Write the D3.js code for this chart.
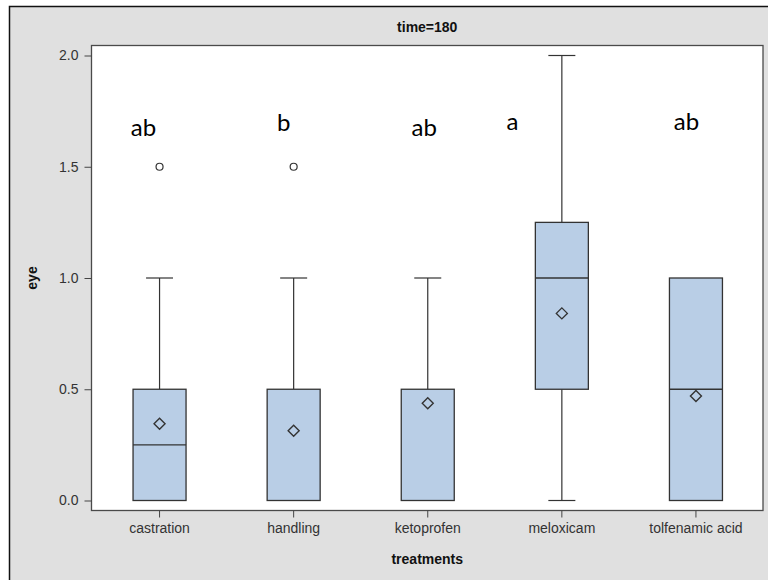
<!DOCTYPE html>
<html>
<head>
<meta charset="utf-8">
<script src="https://cdn.jsdelivr.net/npm/d3@7"></script>
<style>
  html, body { margin: 0; padding: 0; background: #ffffff; }
  svg { display: block; }
</style>
</head>
<body>
<svg id="chart" width="768" height="580"></svg>
<script>
// Box-plot summaries of the "eye" score per treatment at time=180
const treatments = ["castration", "handling", "ketoprofen", "meloxicam", "tolfenamic acid"];
const whiskerLow  = [0,    0,    0,    0,    0];
const q1          = [0,    0,    0,    0.5,  0];
const median      = [0.25, 0,    0.5,  1.0,  0.5];
const q3          = [0.5,  0.5,  0.5,  1.25, 1.0];
const whiskerHigh = [1.0,  1.0,  1.0,  2.0,  1.0];
const means       = [0.345, 0.313, 0.437, 0.841, 0.47];
const outliers    = [[1.5], [1.5], [], [], []];

// Significance letters shown above each treatment
const letters     = ["ab", "b", "ab", "a", "ab"];
const letterY     = [1.64, 1.66, 1.64, 1.665, 1.665];
const letterDx    = [-16, -10, -3.5, -49.5, -9.5];

const yTicks = [0, 0.5, 1.0, 1.5, 2.0];

const FONT = "Liberation Sans, Arial, sans-serif";
const svg = d3.select("#chart");

// outer panel
svg.append("rect")
  .attr("x", 9.5).attr("y", 6.5)
  .attr("width", 770).attr("height", 590)
  .attr("fill", "#e0e0e0")
  .attr("stroke", "#111").attr("stroke-width", 1.5);

const plot = { left: 91.5, right: 763, top: 45.5, bottom: 510.5 };

const x = d3.scaleBand().domain(treatments).range([plot.left + 1, plot.right]).padding(0);
const y = d3.scaleLinear().domain([0, 2]).range([500.5, 55.5]);

// plot area
svg.append("rect")
  .attr("x", plot.left).attr("y", plot.top)
  .attr("width", plot.right - plot.left).attr("height", plot.bottom - plot.top)
  .attr("fill", "#ffffff")
  .attr("stroke", "#4a4a4a").attr("stroke-width", 1.3);

// title
svg.append("text")
  .attr("x", (plot.left + plot.right) / 2).attr("y", 32)
  .attr("text-anchor", "middle")
  .attr("font-family", FONT)
  .attr("font-size", 14).attr("font-weight", "bold")
  .attr("fill", "#111")
  .text("time=180");

// y axis
const yAxis = d3.axisLeft(y).tickValues(yTicks).tickFormat(d3.format(".1f")).tickSize(7).tickPadding(6);
const gy = svg.append("g").attr("transform", `translate(${plot.left},0)`).call(yAxis);
gy.select(".domain").remove();
gy.selectAll(".tick line").attr("stroke", "#444");
gy.selectAll(".tick text")
  .attr("font-family", FONT)
  .attr("font-size", 14).attr("fill", "#333");

// x axis
const xAxis = d3.axisBottom(x).tickSize(7).tickPadding(6);
const gx = svg.append("g").attr("transform", `translate(0,${plot.bottom})`).call(xAxis);
gx.select(".domain").remove();
gx.selectAll(".tick line").attr("stroke", "#444");
gx.selectAll(".tick text")
  .attr("font-family", FONT)
  .attr("font-size", 14).attr("fill", "#333");

// axis titles
svg.append("text")
  .attr("x", (plot.left + plot.right) / 2).attr("y", 564)
  .attr("text-anchor", "middle")
  .attr("font-family", FONT)
  .attr("font-size", 14).attr("font-weight", "bold").attr("fill", "#111")
  .text("treatments");

svg.append("text")
  .attr("transform", `translate(37,${(plot.top + plot.bottom) / 2}) rotate(-90)`)
  .attr("text-anchor", "middle")
  .attr("font-family", FONT)
  .attr("font-size", 14).attr("font-weight", "bold").attr("fill", "#111")
  .text("eye");

// boxes
const boxW = 53, capW = 27;
const boxes = treatments.map((t, i) => ({
  t, lo: whiskerLow[i], q1: q1[i], med: median[i], q3: q3[i], hi: whiskerHigh[i],
  mean: means[i], out: outliers[i]
}));

const g = svg.append("g");
const cx = d => x(d.t) + x.bandwidth() / 2;
const stroke = "#333";

boxes.forEach(d => {
  const c = cx(d);
  // whiskers with caps (a whisker that ends on the box edge has no cap)
  g.append("line").attr("x1", c).attr("x2", c).attr("y1", y(d.q3)).attr("y2", y(d.hi))
    .attr("stroke", stroke).attr("stroke-width", 1.2);
  g.append("line").attr("x1", c).attr("x2", c).attr("y1", y(d.q1)).attr("y2", y(d.lo))
    .attr("stroke", stroke).attr("stroke-width", 1.2);
  if (d.hi > d.q3) {
    g.append("line").attr("x1", c - capW / 2).attr("x2", c + capW / 2).attr("y1", y(d.hi)).attr("y2", y(d.hi))
      .attr("stroke", stroke).attr("stroke-width", 1.2);
  }
  if (d.lo < d.q1) {
    g.append("line").attr("x1", c - capW / 2).attr("x2", c + capW / 2).attr("y1", y(d.lo)).attr("y2", y(d.lo))
      .attr("stroke", stroke).attr("stroke-width", 1.2);
  }
  // box
  g.append("rect")
    .attr("x", c - boxW / 2).attr("y", y(d.q3))
    .attr("width", boxW).attr("height", y(d.q1) - y(d.q3))
    .attr("fill", "#b9cee6").attr("stroke", stroke).attr("stroke-width", 1.3);
  // median line, only where it does not lie on a box edge
  if (d.med > d.q1 && d.med < d.q3) {
    g.append("line").attr("x1", c - boxW / 2).attr("x2", c + boxW / 2).attr("y1", y(d.med)).attr("y2", y(d.med))
      .attr("stroke", stroke).attr("stroke-width", 1.3);
  }
  // mean diamond
  const my = y(d.mean), r = 5.5;
  g.append("path")
    .attr("d", `M${c},${my - r}L${c + r},${my}L${c},${my + r}L${c - r},${my}Z`)
    .attr("fill", "none").attr("stroke", stroke).attr("stroke-width", 1.4);
  // outliers
  d.out.forEach(v => {
    g.append("circle").attr("cx", c).attr("cy", y(v)).attr("r", 3.5)
      .attr("fill", "#fff").attr("stroke", stroke).attr("stroke-width", 1.2);
  });
});

// significance letters
svg.append("g").selectAll("text")
  .data(treatments)
  .join("text")
  .attr("x", (t, i) => x(t) + x.bandwidth() / 2 + letterDx[i])
  .attr("y", (t, i) => y(letterY[i]))
  .attr("text-anchor", "middle")
  .attr("font-family", "Lato, 'Open Sans', sans-serif")
  .attr("font-size", 24)
  .attr("fill", "#000")
  .text((t, i) => letters[i]);
</script>
</body>
</html>
